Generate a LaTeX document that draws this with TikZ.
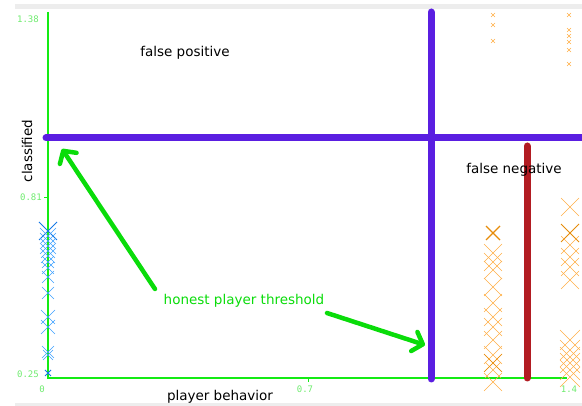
\documentclass[tikz,border=0pt]{standalone}
\usepackage{fontspec}
\setmainfont{DejaVu Sans}
\newfontfamily\tickfont{DejaVu Sans Mono}
\usetikzlibrary{calc,arrows.meta}
\definecolor{axisgreen}{RGB}{20,235,20}
\definecolor{ticklabel}{RGB}{110,235,110}
\definecolor{markgreen}{RGB}{10,220,10}
\definecolor{thrpurple}{RGB}{90,30,225}
\definecolor{thrred}{RGB}{178,28,34}
\definecolor{honestblue}{RGB}{60,160,255}
\definecolor{honestdark}{RGB}{20,120,230}
\definecolor{cheatorange}{RGB}{255,175,70}
\definecolor{cheatdark}{RGB}{230,140,10}
\def\crossmark[#1](#2)(#3){\draw[#1] ($(#2)+(-#3,-#3)$) -- ($(#2)+(#3,#3)$) ($(#2)+(-#3,#3)$) -- ($(#2)+(#3,-#3)$);}

\begin{document}
\begin{tikzpicture}[x=1pt,y=-1pt,
    ticktext/.style={text=ticklabel, font=\tickfont\fontsize{9}{10}\selectfont, inner sep=1pt},
    axistext/.style={font=\fontsize{13.5}{15}\selectfont, inner sep=1pt},
    arrowline/.style={markgreen, line width=4.5pt, line cap=round, line join=round,
        -{Straight Barb[length=9pt,width=20pt,round]}}]
			%%%%% START %%%%%
			\useasboundingbox (0,0) rectangle (582,406);
			
			\fill[black!7] (15,4) rectangle (582,9);
			\fill[black!7] (15,403) rectangle (582,406);
			
			% axes
			\draw[axisgreen, line width=1.2pt] (48,12) -- (48,378) -- (567,378);
			\draw[axisgreen, line width=0.6pt] (44,197) -- (48,197);
			\draw[axisgreen, line width=0.6pt] (308,378) -- (308,382);
			
			\node[ticktext] (ymax) at (28,19) {1.38};
			\node[ticktext] (ymid) at (31,197) {0.81};
			\node[ticktext] (ymin) at (28,374) {0.25};
			\node[ticktext] (xmin) at (42,389) {0};
			\node[ticktext] (xmid) at (305,389) {0.7};
			\node[ticktext] (xmax) at (569,389) {1.4};
			
			% honest players
			\crossmark[honestdark, line width=1pt](48,231)(9);
			\foreach \y/\s in {236/8, 241/8, 246/8, 251/7, 256/7, 262/6, 268/6, 277/6, 293/6, 317/7, 327/7, 352/6, 355/5}
				\crossmark[honestblue, line width=0.5pt](48,\y)(\s);
			\crossmark[honestdark, line width=0.8pt](48,373)(3);
			
			% cheating players
			\crossmark[cheatdark, line width=1.2pt](493,233)(7);
			\foreach \y/\s in {253/9, 262/9, 270/9, 287/9, 303/9, 317/9, 327/9, 340/9, 355/9, 363/9, 370/8, 382/9}
				\crossmark[cheatorange, line width=0.5pt](493,\y)(\s);
			\crossmark[cheatdark, line width=0.5pt](493,363)(9);
			\crossmark[cheatorange, line width=0.5pt](570,207)(9);
			\crossmark[cheatdark, line width=1pt](570,233)(9);
			\foreach \y/\s in {245/9, 257/9, 267/9, 280/9, 340/10, 350/10, 357/10, 363/10, 370/10, 377/10}
				\crossmark[cheatorange, line width=0.5pt](570,\y)(\s);
			\foreach \y in {15, 25, 41}
				\crossmark[cheatorange, line width=0.6pt](493,\y)(2);
			\foreach \y in {15, 30, 36, 42, 50, 64}
				\crossmark[cheatorange, line width=0.6pt](569,\y)(2);
			
			% thresholds
			\draw[thrpurple, line width=7pt, line cap=round] (46,138) -- (582,138);
			\draw[thrpurple, line width=7pt, line cap=round] (431,12) -- (431,379);
			\draw[thrred, line width=7pt, line cap=round] (527,146) -- (527,378);
			
			% labels
			\node[axistext] (fp) at (185,53) {false positive};
			\node[axistext] (fn) at (514,170) {false negative};
			\node[axistext] (xlabel) at (220,397) {player behavior};
			\node[axistext, rotate=90] (ylabel) at (27,151) {classified};
			\node[axistext, text=markgreen] (threshold) at (244,301) {honest player threshold};
			
			\coordinate (tailA) at (155,289);
			\coordinate (headA) at (62,149);
			\coordinate (tailB) at (327,313);
			\coordinate (headB) at (425,345);
			\draw[arrowline] (tailA) -- (headA);
			\draw[arrowline] (tailB) -- (headB);
			
			%%%%% END %%%%%
		\end{tikzpicture}
\end{document}
